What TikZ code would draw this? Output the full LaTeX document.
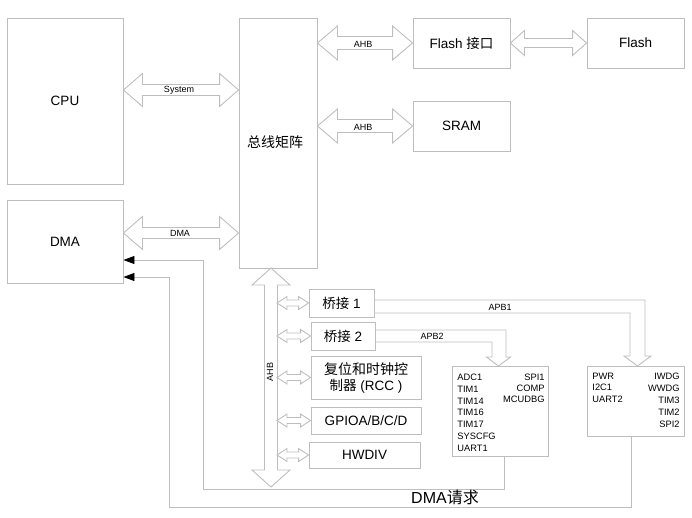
\documentclass[tikz,border=0pt]{standalone}
\usepackage{fontspec}
\setmainfont{Liberation Sans}
\newfontfamily\cjk{Noto Sans CJK SC}
\usetikzlibrary{calc,arrows.meta}
\definecolor{linegray}{RGB}{190,190,190}

% hollow bus arrows: from, to, shaft half width, head half width, head length
\newcommand{\hbus}[5]{%
  \draw[bus] (#1) -- ($(#1)+(#5,#4)$) -- ($(#1)+(#5,#3)$) -- ($(#2)+(-#5,#3)$)
    -- ($(#2)+(-#5,#4)$) -- (#2) -- ($(#2)+(-#5,-#4)$) -- ($(#2)+(-#5,-#3)$)
    -- ($(#1)+(#5,-#3)$) -- ($(#1)+(#5,-#4)$) -- cycle;}
\newcommand{\vbus}[5]{%
  \draw[bus] (#1) -- ($(#1)+(#4,#5)$) -- ($(#1)+(#3,#5)$) -- ($(#2)+(#3,-#5)$)
    -- ($(#2)+(#4,-#5)$) -- (#2) -- ($(#2)+(-#4,-#5)$) -- ($(#2)+(-#3,-#5)$)
    -- ($(#1)+(-#3,#5)$) -- ($(#1)+(-#4,#5)$) -- cycle;}

\begin{document}
\begin{tikzpicture}[x=1pt, y=-1pt, line width=0.9pt,
    box/.style={draw=linegray, inner sep=0pt, font=\fontsize{13.5}{16}\selectfont},
    bus/.style={draw=linegray, line join=miter},
    wire/.style={draw=linegray},
    tag/.style={font=\fontsize{9}{10}\selectfont, inner sep=0pt},
    periph/.style={font=\fontsize{9.3}{10}\selectfont, inner sep=0pt},
    req/.style={wire, -{Triangle[color=black, length=11pt, width=8pt]}}]
  \useasboundingbox (0,0) rectangle (692,517);

  % masters and bus matrix
  \node[box, minimum width=116pt, minimum height=166pt] (cpu) at (65,101) {CPU};
  \node[box, minimum width=116pt, minimum height=83pt] (dma) at (65,241.5) {DMA};
  \node[box, minimum width=78pt, minimum height=250pt] (matrix) at (278,143) {};
  \node[font=\cjk\fontsize{14}{16}\selectfont] (matrixtxt) at (275,142) {总线矩阵};

  % memories
  \node[box, minimum width=97pt, minimum height=50pt] (flashif) at (461.5,43) {Flash {\cjk 接口}};
  \node[box, minimum width=97pt, minimum height=50pt] (sram) at (461.5,126) {SRAM};
  \node[box, minimum width=97pt, minimum height=50pt] (flash) at (635.5,43) {Flash};

  % AHB peripherals
  \node[box, minimum width=65pt, minimum height=28pt] (bridge1) at (341.5,303) {{\cjk 桥接} 1};
  \node[box, minimum width=64pt, minimum height=28pt] (bridge2) at (343,336) {{\cjk 桥接} 2};
  \node[box, minimum width=110pt, minimum height=43pt, align=center] (rcc) at (366,377.5)
    {{\cjk\fontsize{14}{18}\selectfont 复位和时钟控}\\{\cjk 制器} (RCC )};
  \node[box, minimum width=110pt, minimum height=27pt] (gpio) at (366,420.5) {GPIOA/B/C/D};
  \node[box, minimum width=111pt, minimum height=26pt] (hwdiv) at (364.5,455) {HWDIV};

  % APB peripherals
  \node[box, minimum width=96pt, minimum height=90pt] (apb2box) at (500,411) {};
  \node[box, minimum width=97pt, minimum height=70pt] (apb1box) at (635.5,401) {};
  \foreach \t [count=\i] in {ADC1,TIM1,TIM14,TIM16,TIM17,SYSCFG,UART1}
    \node[periph, anchor=west] (pa\i) at (457,365.5+11.8*\i) {\t};
  \foreach \t [count=\i] in {SPI1,COMP,MCUDBG}
    \node[periph, anchor=east] (pb\i) at (545,366+11.2*\i) {\t};
  \foreach \t [count=\i] in {PWR,I2C1,UART2}
    \node[periph, anchor=west] (pc\i) at (592,364.5+11.5*\i) {\t};
  \foreach \t [count=\i] in {IWDG,WWDG,TIM3,TIM2,SPI2}
    \node[periph, anchor=east] (pd\i) at (680,364+12*\i) {\t};

  % bus arrows
  \coordinate (sysA) at (cpu.east |- 0,90);
  \coordinate (sysB) at (matrix.west |- 0,90);
  \coordinate (dmaA) at (dma.east |- 0,233);
  \coordinate (dmaB) at (matrix.west |- 0,233);
  \coordinate (ahb1) at (matrix.east |- flashif.west);
  \coordinate (ahb2) at (matrix.east |- sram.west);
  \coordinate (ahbT) at (271,268);
  \coordinate (ahbB) at (271,487);
  \coordinate (ahbR) at (277,0);
  \hbus{sysA}{sysB}{5.5}{16.5}{19}
  \hbus{dmaA}{dmaB}{5.5}{16.5}{19}
  \hbus{ahb1}{flashif.west}{6.5}{17}{20}
  \hbus{ahb2}{sram.west}{6.5}{17}{20}
  \hbus{flashif.east}{flash.west}{4.5}{12.5}{14}
  \vbus{ahbT}{ahbB}{6.5}{19}{17}
  \foreach \n in {bridge1,bridge2,rcc,gpio,hwdiv}{
    \coordinate (l\n) at (ahbR |- \n.west);
    \hbus{l\n}{\n.west}{3}{6.5}{10}
  }
  \node[tag] (systag) at (179,90.5) {System};
  \node[tag] (dmatag) at (180,233.5) {DMA};
  \node[tag] (ahbtag1) at (363,44) {AHB};
  \node[tag] (ahbtag2) at (363,127.5) {AHB};
  \node[tag, rotate=90] (ahbtag3) at (270,372) {AHB};

  % APB buses
  \draw[wire] (bridge1.east |- 0,300) -| (645,356) -- (651,356) -- (637.5,366)
    -- (624,356) -- (630,356) |- (bridge1.east |- 0,313);
  \draw[wire] (bridge2.east |- 0,330) -| (506,357) -- (510.5,357) -- (498.5,366)
    -- (486.5,357) -- (492,357) |- (bridge2.east |- 0,342);
  \node[tag] (apb1tag) at (500,307) {APB1};
  \node[tag] (apb2tag) at (432,336) {APB2};

  % DMA requests
  \coordinate (req2) at ($(apb2box.south)+(4,0)$);
  \coordinate (req1) at ($(apb1box.south)+(-4.5,0)$);
  \draw[req] (req2) |- (203,489) |- (dma.east |- 0,260);
  \draw[req] (req1) |- (169,507) |- (dma.east |- 0,277);
  \node[font=\fontsize{16}{18}\selectfont] (reqtag) at (445,497) {DMA{\cjk 请求}};
\end{tikzpicture}
\end{document}
